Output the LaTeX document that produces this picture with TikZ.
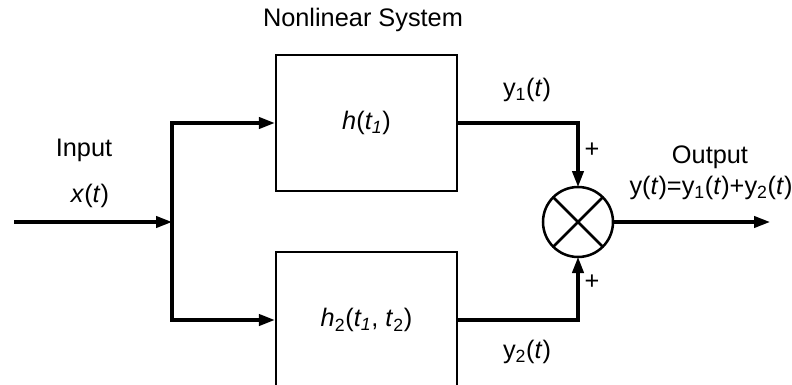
\documentclass[tikz,border=0pt]{standalone}
\usepackage{fontspec}
\setmainfont{Liberation Sans}
\usepackage{xcolor}
\usepackage{tikz}
\usetikzlibrary{arrows.meta,positioning,calc}
\definecolor{ink}{HTML}{000000}
\tikzset{
    every picture/.style={line join=miter},
    sysbox/.style={draw=ink,line width=1.8pt,minimum width=135.75pt,
      minimum height=102pt,inner sep=0pt,font=\fontsize{19}{22}\selectfont},
    sumnode/.style={draw=ink,circle,line width=1.9pt,minimum size=52.5pt,
      inner sep=0pt,outer sep=0pt},
    sigline/.style={draw=ink,line width=2.4pt},
    flowarrow/.style={sigline,-{Triangle[length=12pt,width=8.5pt]}},
    txt/.style={text=ink,inner sep=0pt,font=\fontsize{19}{22}\selectfont}
}
\begin{document}
\begin{tikzpicture}[x=0.75pt,y=-0.75pt]
  \clip (0,0) rectangle (792,385);
  % blocks
  \node[sysbox] (sys1) at (366.5,123) {\textit{h}(\textit{t\textsubscript{1}})};
  \node[sysbox] (sys2) at (366.5,320) {\textit{h}\textsubscript{2}(\textit{t\textsubscript{1}}, \textit{t}\textsubscript{2})};
  \node[sumnode] (sum) at (578,222) {};
  \draw[line width=1.9pt] (sum.north west) -- (sum.south east) (sum.north east) -- (sum.south west);
  \coordinate (in) at (14,222);
  \coordinate (split) at (172,222);
  \coordinate (out) at (770,222);
  % connectors
  \draw[flowarrow] (in) -- (split);
  \draw[flowarrow] (split) |- (sys1.west);
  \draw[flowarrow] (split) |- (sys2.west);
  \draw[flowarrow] (sys1.east) -| (sum.north);
  \draw[flowarrow] (sys2.east) -| (sum.south);
  \draw[flowarrow] (sum.east) -- (out);
  % labels
  \node[txt] (title) at (363,20) {Nonlinear System};
  \node[txt] (inlbl) at (84,150) {Input};
  \node[txt] (xlbl) at (90,196) {\textit{x}(\textit{t})};
  \node[txt] (y1lbl) at (527,90) {y\textsubscript{1}(\textit{t})};
  \node[txt] (y2lbl) at (527,352) {y\textsubscript{2}(\textit{t})};
  \node[txt] (plus1) at (592,150) {+};
  \node[txt] (plus2) at (592,282) {+};
  \node[txt] (outlbl) at (710,157) {Output};
  \node[txt] (ylbl) at (711,188) {y(\textit{t})=y\textsubscript{1}(\textit{t})+y\textsubscript{2}(\textit{t})};
\end{tikzpicture}
\end{document}
